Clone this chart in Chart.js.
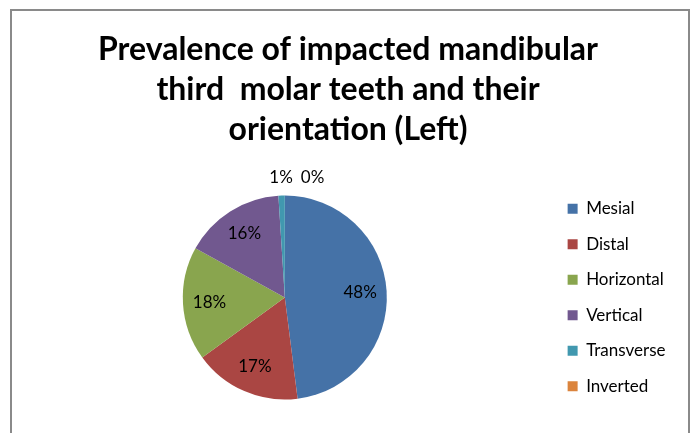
<!DOCTYPE html>
<html>
<head>
<meta charset="utf-8">
<title>Prevalence of impacted mandibular third molar teeth (Left)</title>
<script src="https://cdn.jsdelivr.net/npm/chart.js@4"></script>
<style>
  html, body { margin: 0; padding: 0; background: #fff; }
  canvas { display: block; }
</style>
</head>
<body>
<canvas id="grafico" width="694" height="433"></canvas>
<script>
// orientação dos terceiros molares inferiores (lado esquerdo)
const categorias = ['Mesial', 'Distal', 'Horizontal', 'Vertical', 'Transverse', 'Inverted'];
const percentuais = [48, 17, 18, 16, 1, 0];
const titulo = ['Prevalence of impacted mandibular', 'third  molar teeth and their', 'orientation (Left)'];

const cores = ['#4572A7', '#AA4643', '#89A54E', '#71588F', '#4198AF', '#DB843D'];

// moldura cinza em volta do gráfico
const moldura = {
    id: 'moldura',
    beforeDraw(chart) {
        const ctx = chart.ctx;
        ctx.save();
        ctx.strokeStyle = '#8a8a8a';
        ctx.lineWidth = 2;
        ctx.strokeRect(11, 10, 678, 500);
        ctx.restore();
    }
};

// rótulos de porcentagem em cada fatia
const rotulos = {
    id: 'rotulos',
    afterDatasetsDraw(chart) {
        const ctx = chart.ctx;
        const meta = chart.getDatasetMeta(0);
        ctx.save();
        ctx.font = '17px Lato';
        ctx.fillStyle = '#000';
        ctx.textAlign = 'center';
        ctx.textBaseline = 'middle';
        let fimAnterior = null;
        meta.data.forEach((arco, i) => {
            const valor = percentuais[i];
            const texto = valor + '%';
            const { x, y, startAngle, endAngle, outerRadius } =
                arco.getProps(['x', 'y', 'startAngle', 'endAngle', 'outerRadius'], true);
            const meio = (startAngle + endAngle) / 2;
            const fora = valor < 5; // fatias pequenas ficam do lado de fora
            const r = fora ? outerRadius + 18 : outerRadius * 0.74;
            let px = x + Math.cos(meio) * r;
            const py = y + Math.sin(meio) * r;
            const larg = ctx.measureText(texto).width;
            if (fora) {
                if (fimAnterior !== null && px - larg / 2 < fimAnterior + 8) {
                    px = fimAnterior + 8 + larg / 2;
                }
                fimAnterior = px + larg / 2;
            }
            ctx.fillText(texto, px, py);
        });
        ctx.restore();
    }
};

new Chart(document.getElementById('grafico'), {
    type: 'pie',
    data: {
        labels: categorias,
        datasets: [{
            data: percentuais,
            backgroundColor: cores,
            borderWidth: 0,
            radius: 102
        }]
    },
    options: {
        responsive: false,
        animation: false,
        layout: { padding: { left: 20.5, right: 18.5, top: 0, bottom: 0 } },
        plugins: {
            title: {
                display: true,
                text: titulo,
                color: '#000',
                font: { family: 'Lato', size: 32, weight: 'bold', lineHeight: 40 / 32 },
                padding: { top: 30, bottom: 12 }
            },
            legend: {
                position: 'right',
                fullSize: false,
                labels: {
                    boxWidth: 10,
                    boxHeight: 10,
                    padding: 18.5,
                    color: '#000',
                    font: { family: 'Lato', size: 17 }
                }
            },
            tooltip: { enabled: false }
        }
    },
    plugins: [moldura, rotulos]
});
</script>
</body>
</html>
